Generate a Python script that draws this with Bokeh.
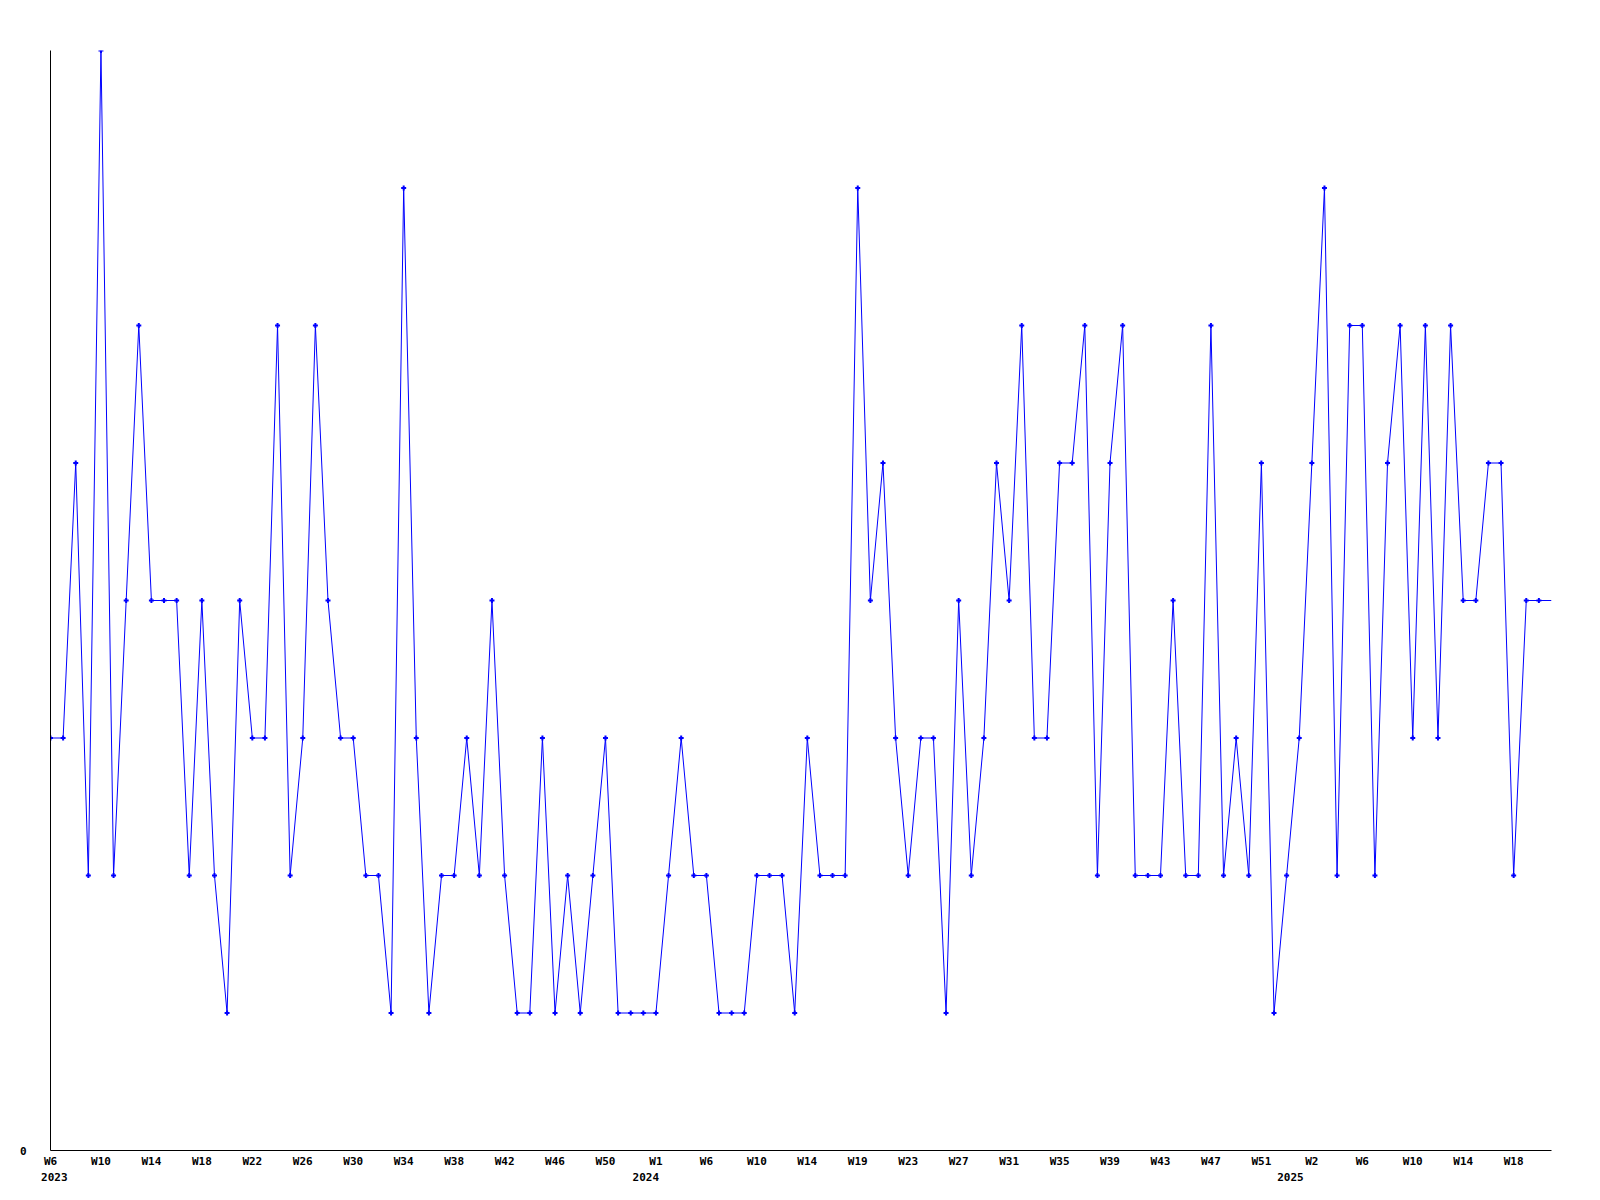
from bokeh.plotting import figure
from bokeh.models import Range1d, FixedTicker, LinearAxis
from bokeh.embed import file_html
from bokeh.resources import INLINE

# weekly values (index 0 = W6 2023); last value only continues the line to the edge
values = [3, 3, 5, 2, 8, 2, 4, 6, 4, 4, 4, 2, 4, 2, 1, 4, 3, 3, 6, 2, 3, 6, 4, 3,
          3, 2, 2, 1, 7, 3, 1, 2, 2, 3, 2, 4, 2, 1, 1, 3, 1, 2, 1, 2, 3, 1, 1, 1,
          1, 2, 3, 2, 2, 1, 1, 1, 2, 2, 2, 1, 3, 2, 2, 2, 7, 4, 5, 3, 2, 3, 3, 1,
          4, 2, 3, 5, 4, 6, 3, 3, 5, 5, 6, 2, 5, 6, 2, 2, 2, 4, 2, 2, 6, 2, 3, 2,
          5, 1, 2, 3, 5, 7, 2, 6, 6, 2, 5, 6, 3, 6, 3, 6, 4, 4, 5, 5, 2, 4, 4,
          4]
week_tick_labels = ["W6", "W10", "W14", "W18", "W22", "W26", "W30", "W34", "W38", "W42",
                    "W46", "W50", "W1", "W6", "W10", "W14", "W19", "W23", "W27", "W31",
                    "W35", "W39", "W43", "W47", "W51", "W2", "W6", "W10", "W14", "W18"]
year_labels = ["2023", "2024", "2025"]
year_label_pos = [0.3, 47.2, 98.3]

x = list(range(len(values)))
week_ticks = [i * 4 for i in range(len(week_tick_labels))]

p = figure(frame_width=1501, frame_height=1100,
           x_range=Range1d(0, len(values) - 1), y_range=Range1d(0, max(values)),
           output_backend="svg", toolbar_location=None,
           min_border_left=50, min_border_top=50, min_border_right=30, min_border_bottom=36,
           x_axis_location=None, y_axis_location=None)
p.outline_line_color = None
p.xgrid.visible = False
p.ygrid.visible = False
p.background_fill_color = "white"
p.border_fill_color = "white"

FONT = "DejaVu Sans Mono"

yax = LinearAxis(ticker=FixedTicker(ticks=[0]))
yax.axis_line_color = "black"
yax.axis_line_width = 1
yax.major_tick_line_color = None
yax.minor_tick_line_color = None
yax.major_tick_out = 0
yax.major_tick_in = 0
yax.major_label_standoff = 24
yax.major_label_text_font = FONT
yax.major_label_text_font_style = "bold"
yax.major_label_text_font_size = "11px"
yax.major_label_text_color = "black"
p.add_layout(yax, "left")

xax = LinearAxis(ticker=FixedTicker(ticks=week_ticks))
xax.major_label_overrides = {t: l for t, l in zip(week_ticks, week_tick_labels)}
xax.axis_line_color = "black"
xax.axis_line_width = 1
xax.major_tick_line_color = None
xax.minor_tick_line_color = None
xax.major_tick_out = 0
xax.major_tick_in = 0
xax.major_label_standoff = 4
xax.major_label_text_font = FONT
xax.major_label_text_font_style = "bold"
xax.major_label_text_font_size = "11px"
xax.major_label_text_color = "black"
p.add_layout(xax, "below")

yrax = LinearAxis(ticker=FixedTicker(ticks=year_label_pos))
yrax.major_label_overrides = {t: l for t, l in zip(year_label_pos, year_labels)}
yrax.axis_line_color = None
yrax.major_tick_line_color = None
yrax.minor_tick_line_color = None
yrax.major_tick_out = 0
yrax.major_tick_in = 0
yrax.major_label_standoff = 2
yrax.major_label_text_font = FONT
yrax.major_label_text_font_style = "bold"
yrax.major_label_text_font_size = "11px"
yrax.major_label_text_color = "black"
p.add_layout(yrax, "below")

p.line(x, values, line_color="#0000ff", line_width=1)
p.scatter(x[:-1], values[:-1], marker="cross", size=5, line_width=2, line_color="#0000ff")

open("out.html", "w").write(file_html(p, INLINE))
